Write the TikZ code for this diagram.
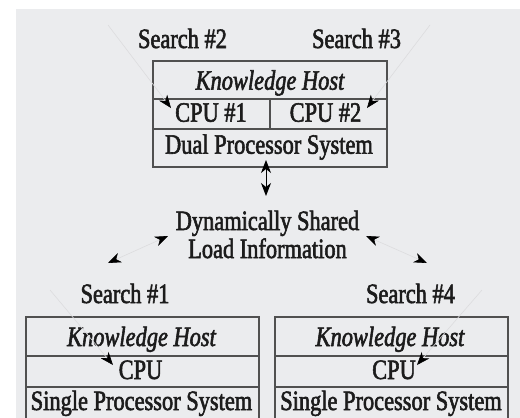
\documentclass[tikz,border=0pt]{standalone}
\usepackage{fontspec}
\setmainfont[FakeStretch=0.8,FakeBold=2]{Liberation Serif}
\usetikzlibrary{arrows.meta}
\definecolor{bg}{HTML}{EBECEE}
\definecolor{frame}{HTML}{505050}
\definecolor{faint}{HTML}{DCDCDE}
\definecolor{ink}{HTML}{1C1C1C}
\tikzset{
  lbl/.style={anchor=base,inner sep=0pt,text=ink,font=\fontsize{28}{30}\selectfont},
  ilbl/.style={lbl,font=\fontsize{28}{30}\selectfont\itshape},
  cell/.style={draw=frame,line width=1.2pt},
  pointer/.style={draw=faint,line width=0.6pt,-{Stealth[length=13pt,width=10pt,inset=4pt,color=black]}},
  shared/.style={draw=faint,line width=0.6pt,{Stealth[length=13pt,width=10pt,inset=4pt,color=black]}-{Stealth[length=13pt,width=10pt,inset=4pt,color=black]}},
  link/.style={draw=black,line width=1pt,{Stealth[length=13pt,width=10pt,inset=4pt]}-{Stealth[length=13pt,width=10pt,inset=4pt]}}
}
\begin{document}
\begin{tikzpicture}[x=1pt,y=-1pt]
\useasboundingbox (0,0) rectangle (520,418);
\fill[bg] (16,9) rectangle (520,418);

% top dual processor box
\draw[cell] (153,61) rectangle (387,167);
\draw[cell] (153,99) -- (387,99);
\draw[cell] (153,129) -- (387,129);
\draw[cell] (270,99) -- (270,129);
\node[ilbl] (kh0) at (270,89.7) {Knowledge Host};
\node[lbl] (cpu1) at (211,121.7) {CPU \#1};
\node[lbl] (cpu2) at (325.5,121.7) {CPU \#2};
\node[lbl] (dps) at (269,153.7) {Dual Processor System};

% bottom left single processor box
\draw[cell] (26,420) -- (26,317) -- (259,317) -- (259,420);
\draw[cell] (26,356) -- (259,356);
\draw[cell] (26,387) -- (259,387);
\node[ilbl] (kh1) at (141.5,346) {Knowledge Host};
\node[lbl] (cpu3) at (140.5,379) {CPU};
\node[lbl] (sps1) at (141.5,410) {Single Processor System};

% bottom right single processor box
\draw[cell] (275,420) -- (275,317) -- (508,317) -- (508,420);
\draw[cell] (275,356) -- (508,356);
\draw[cell] (275,387) -- (508,387);
\node[ilbl] (kh2) at (390,346) {Knowledge Host};
\node[lbl] (cpu4) at (394,379) {CPU};
\node[lbl] (sps2) at (391,410) {Single Processor System};

% search labels
\node[lbl] (s2) at (182.5,48) {Search \#2};
\node[lbl] (s3) at (356.5,48) {Search \#3};
\node[lbl] (s1) at (125,303) {Search \#1};
\node[lbl] (s4) at (410.5,303) {Search \#4};

% shared load information
\node[lbl] (dyn1) at (267.5,230) {Dynamically Shared};
\node[lbl] (dyn2) at (267.5,258) {Load Information};

% pointer coordinates
\coordinate (p2a) at (108,25);  \coordinate (p2b) at (171,108);
\coordinate (p3a) at (430,25);  \coordinate (p3b) at (367,108);
\coordinate (p1a) at (50,290);  \coordinate (p1b) at (113,365);
\coordinate (p4a) at (482,290); \coordinate (p4b) at (417,365);
\coordinate (la) at (168,236);  \coordinate (lb) at (108,263);
\coordinate (ra) at (366,236);  \coordinate (rb) at (427,263);
\coordinate (va) at (266,160);  \coordinate (vb) at (266,196);

\draw[pointer] (p2a) -- (p2b);
\draw[pointer] (p3a) -- (p3b);
\draw[pointer] (p1a) -- (p1b);
\draw[pointer] (p4a) -- (p4b);
\draw[shared] (la) -- (lb);
\draw[shared] (ra) -- (rb);
\draw[link] (va) -- (vb);
\end{tikzpicture}
\end{document}
